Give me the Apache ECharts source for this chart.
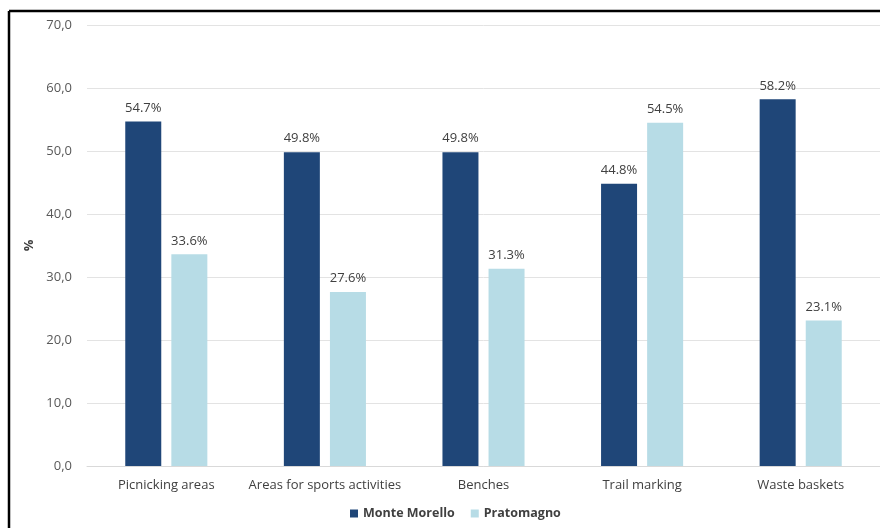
<!DOCTYPE html>
<html>
<head>
<meta charset="utf-8">
<script src="https://cdn.jsdelivr.net/npm/echarts@6/dist/echarts.min.js"></script>
<style>
  html, body { margin: 0; padding: 0; background: #fff; }
  #chart { width: 880px; height: 528px; }
</style>
</head>
<body>
<div id="chart"></div>
<script>
var categories = ['Picnicking areas', 'Areas for sports activities', 'Benches', 'Trail marking', 'Waste baskets'];
var monteMorello = [54.7, 49.8, 49.8, 44.8, 58.2];
var pratomagno = [33.6, 27.6, 31.3, 54.5, 23.1];

var fontFam = '"Open Sans", "Noto Sans", sans-serif';

function pctLabel(p) {
    return p.value.toFixed(1) + '%';
}

var option = {
    animation: false,
    backgroundColor: '#fff',
    textStyle: { fontFamily: fontFam },
    graphic: [
        { type: 'line', shape: { x1: 9, y1: 11, x2: 880, y2: 11 }, style: { stroke: '#000', lineWidth: 2.5 } },
        { type: 'line', shape: { x1: 9, y1: 11, x2: 9, y2: 528 }, style: { stroke: '#000', lineWidth: 2.5 } }
    ],
    grid: { left: 87, top: 25, width: 800, bottom: 62, containLabel: false },
    legend: {
        bottom: 3,
        left: 345,
        itemWidth: 8,
        itemHeight: 8,
        itemGap: 16,
        icon: 'rect',
        textStyle: { fontFamily: fontFam, fontSize: 12.5, fontWeight: 'bold', color: '#404040' },
        data: ['Monte Morello', 'Pratomagno']
    },
    xAxis: {
        type: 'category',
        data: categories,
        axisLine: { lineStyle: { color: '#d9d9d9', width: 1 } },
        axisTick: { show: false },
        axisLabel: { color: '#404040', fontSize: 13, margin: 13, interval: 0, fontFamily: fontFam }
    },
    yAxis: {
        type: 'value',
        min: 0,
        max: 70,
        interval: 10,
        name: '%',
        nameLocation: 'middle',
        nameGap: 48,
        nameRotate: 90,
        nameTextStyle: { color: '#404040', fontSize: 13, fontWeight: 'bold' },
        axisLine: { show: false },
        axisTick: { show: false },
        splitLine: { lineStyle: { color: '#e3e3e3', width: 1 } },
        axisLabel: {
            color: '#595959',
            fontSize: 13,
            margin: 15,
            formatter: function (v) { return v.toFixed(1).replace('.', ','); }
        }
    },
    series: [
        {
            name: 'Monte Morello',
            type: 'bar',
            data: monteMorello,
            barWidth: 36,
            barGap: '28%',
            itemStyle: { color: '#1f4678' },
            label: { show: true, position: 'top', distance: 7, color: '#404040', fontSize: 13, formatter: pctLabel }
        },
        {
            name: 'Pratomagno',
            type: 'bar',
            data: pratomagno,
            barWidth: 36,
            itemStyle: { color: '#b7dce6' },
            label: { show: true, position: 'top', distance: 7, color: '#404040', fontSize: 13, formatter: pctLabel }
        }
    ]
};

var myChart = echarts.init(document.getElementById('chart'), null, { renderer: 'canvas' });
myChart.setOption(option);
</script>
</body>
</html>
